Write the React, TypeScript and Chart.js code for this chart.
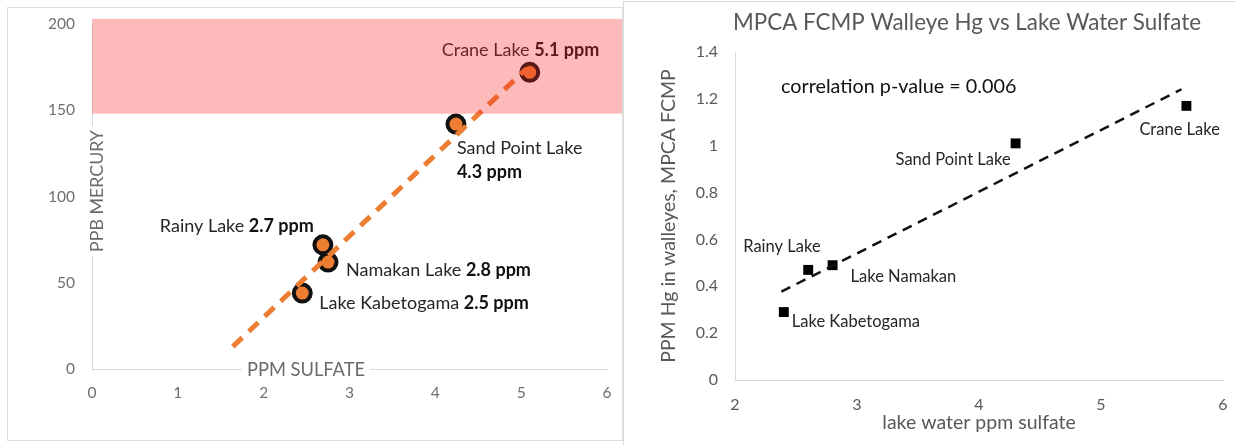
import React, { useEffect, useRef } from "react";
import { Chart, registerables } from "chart.js";

Chart.register(...registerables);

// ---------- DATA (left chart) ----------
const leftLakeNames = ["Lake Kabetogama", "Rainy Lake", "Namakan Lake", "Sand Point Lake", "Crane Lake"];
const leftSulfateLabels = ["2.5 ppm", "2.7 ppm", "2.8 ppm", "4.3 ppm", "5.1 ppm"];
const leftSulfatePpm = [2.45, 2.69, 2.75, 4.24, 5.1];
const leftMercuryPpb = [44, 72, 62, 142, 172];
const leftTrendX = [1.64, 5.06];
const leftTrendY = [13, 174];
const leftBandPpb = [148, 203];
const leftXTicks = [0, 1, 2, 3, 4, 5, 6];
const leftYTicks = [0, 50, 100, 150, 200];
const leftXTitle = "PPM SULFATE";
const leftYTitle = "PPB MERCURY";

// ---------- DATA (right chart) ----------
const rightTitle = "MPCA FCMP Walleye Hg vs Lake Water Sulfate";
const rightLakeNames = ["Lake Kabetogama", "Rainy Lake", "Lake Namakan", "Sand Point Lake", "Crane Lake"];
const rightSulfatePpm = [2.4, 2.6, 2.8, 4.3, 5.7];
const rightHgPpm = [0.29, 0.47, 0.49, 1.01, 1.17];
const rightTrendX = [2.38, 5.66];
const rightTrendY = [0.377, 1.241];
const rightXTicks = [2, 3, 4, 5, 6];
const rightYTicks = [0, 0.2, 0.4, 0.6, 0.8, 1, 1.2, 1.4];
const rightXTitle = "lake water ppm sulfate";
const rightYTitle = "PPM Hg in walleyes, MPCA FCMP";
const rightNote = "correlation p-value = 0.006";

// ---------- STYLE ----------
const FONT = "Lato, 'Open Sans', sans-serif";
const ORANGE = "#ed7d31";
const AXIS = "#d9d9d9";

type Part = { text: string; bold?: boolean };

function drawParts(ctx: CanvasRenderingContext2D, parts: Part[], x: number, y: number, align: string, size: number, color: string, boldColor: string) {
  const widths = parts.map((p) => {
    ctx.font = `${p.bold ? "bold " : ""}${size}px ${FONT}`;
    return ctx.measureText(p.text).width;
  });
  const total = widths.reduce((a, b) => a + b, 0);
  let cx = align === "right" ? x - total : align === "center" ? x - total / 2 : x;
  ctx.textBaseline = "middle";
  ctx.textAlign = "left";
  parts.forEach((p, i) => {
    ctx.font = `${p.bold ? "bold " : ""}${size}px ${FONT}`;
    ctx.fillStyle = p.bold ? boldColor : color;
    ctx.fillText(p.text, cx, y);
    cx += widths[i];
  });
}

// label placement (pixels relative to marker)
const leftLabelLayout = [
  { dx: 17, dy: 10, align: "left", split: false },
  { dx: -9, dy: -19, align: "right", split: false },
  { dx: 18, dy: 8, align: "left", split: false },
  { dx: 1, dy: 24, align: "left", split: true },
  { dx: -88, dy: -22, align: "left", split: false },
];

const rightLabelLayout = [
  { dx: 8, dy: 10, align: "left" },
  { dx: -65, dy: -23, align: "left" },
  { dx: 18, dy: 11, align: "left" },
  { dx: -5, dy: 16, align: "right" },
  { dx: -47, dy: 24, align: "left" },
];

const leftPlugin = {
  id: "leftDecor",
  afterDraw(chart: any) {
    const ctx = chart.ctx as CanvasRenderingContext2D;
    const { left, top, bottom } = chart.chartArea;
    const xs = chart.scales.x;
    const ys = chart.scales.y;
    ctx.save();
    const tSize = 17.8;
    // y title sitting on the axis line
    ctx.save();
    ctx.font = `${tSize}px ${FONT}`;
    ctx.translate(left + 4, top + 167);
    ctx.rotate(-Math.PI / 2);
    let w = ctx.measureText(leftYTitle).width;
    ctx.fillStyle = "#ffffff";
    ctx.fillRect(-w / 2 - 4, -tSize / 2 - 1, w + 8, tSize + 2);
    ctx.fillStyle = "#6b6b6b";
    ctx.textAlign = "center";
    ctx.textBaseline = "middle";
    ctx.fillText(leftYTitle, 0, 1);
    ctx.restore();
    // x title sitting on the axis line
    ctx.font = `18.3px ${FONT}`;
    w = ctx.measureText(leftXTitle).width;
    const cx = left + 214;
    ctx.fillStyle = "#ffffff";
    ctx.fillRect(cx - w / 2 - 5, bottom - tSize / 2 - 1, w + 10, tSize + 2);
    ctx.fillStyle = "#6b6b6b";
    ctx.textAlign = "center";
    ctx.textBaseline = "middle";
    ctx.fillText(leftXTitle, cx, bottom + 1);

    // data labels
    const size = 18;
    leftLakeNames.forEach((name, i) => {
      const px = xs.getPixelForValue(leftSulfatePpm[i]);
      const py = ys.getPixelForValue(leftMercuryPpb[i]);
      const L = leftLabelLayout[i];
      if (L.split) {
        drawParts(ctx, [{ text: name }], px + L.dx, py + L.dy, L.align, size, "#262626", "#111");
        drawParts(ctx, [{ text: leftSulfateLabels[i], bold: true }], px + L.dx, py + L.dy + 24, L.align, size, "#262626", "#111");
      } else {
        drawParts(ctx, [{ text: name + " " }, { text: leftSulfateLabels[i], bold: true }], px + L.dx, py + L.dy, L.align, size, "#262626", "#111");
      }
    });

    // threshold band (translucent, over the marks)
    const yTop = ys.getPixelForValue(leftBandPpb[1]);
    const yBot = ys.getPixelForValue(leftBandPpb[0]);
    ctx.fillStyle = "rgba(245, 40, 40, 0.32)";
    ctx.fillRect(left, yTop, chart.width - left, yBot - yTop);
    ctx.restore();
  },
};

const rightPlugin = {
  id: "rightDecor",
  afterDraw(chart: any) {
    const ctx = chart.ctx as CanvasRenderingContext2D;
    const { left, top } = chart.chartArea;
    const xs = chart.scales.x;
    const ys = chart.scales.y;
    ctx.save();
    ctx.textAlign = "left";
    ctx.textBaseline = "middle";
    ctx.font = `22.4px ${FONT}`;
    ctx.fillStyle = "#595959";
    ctx.fillText(rightTitle, left - 2, top - 29);

    ctx.font = `19.8px ${FONT}`;
    ctx.fillStyle = "#111";
    ctx.fillText(rightNote, left + 46, top + 35);

    rightLakeNames.forEach((name, i) => {
      const px = xs.getPixelForValue(rightSulfatePpm[i]);
      const py = ys.getPixelForValue(rightHgPpm[i]);
      const L = rightLabelLayout[i];
      drawParts(ctx, [{ text: name }], px + L.dx, py + L.dy, L.align, 16.5, "#262626", "#111");
    });
    ctx.restore();
  },
};

const fixX = (h: number) => (s: any) => {
  s.height = h;
  s.paddingLeft = 0;
  s.paddingRight = 0;
};
const fixY = (w: number) => (s: any) => {
  s.width = w;
  s.paddingTop = 0;
  s.paddingBottom = 0;
};

function LeftChart() {
  const ref = useRef<HTMLCanvasElement>(null);
  useEffect(() => {
    const chart = new Chart(ref.current as HTMLCanvasElement, {
      type: "scatter",
      data: {
        datasets: [
          {
            label: "trend",
            data: leftTrendX.map((x, i) => ({ x, y: leftTrendY[i] })),
            showLine: true,
            borderColor: ORANGE,
            borderWidth: 5,
            borderDash: [13, 9],
            pointRadius: 0,
            pointHoverRadius: 0,
            order: 0,
          } as any,
          {
            label: "lakes",
            data: leftSulfatePpm.map((x, i) => ({ x, y: leftMercuryPpb[i] })),
            pointRadius: 8.5,
            pointHoverRadius: 8.5,
            pointBorderWidth: 4,
            pointBackgroundColor: ORANGE,
            pointBorderColor: "#111",
            order: 1,
          } as any,
        ],
      },
      options: {
        animation: false,
        responsive: false,
        events: [],
        layout: { autoPadding: false, padding: { left: 0, top: 17, right: 15, bottom: 0 } },
        plugins: { legend: { display: false }, tooltip: { enabled: false } },
        scales: {
          x: {
            type: "linear",
            min: 0,
            max: 6,
            afterBuildTicks: (s: any) => {
              s.ticks = leftXTicks.map((v) => ({ value: v }));
            },
            afterFit: fixX(71),
            grid: { display: false, drawTicks: false },
            border: { display: true, color: AXIS, width: 1 },
            ticks: { color: "#6f6f6f", font: { family: FONT, size: 15.5 }, padding: 15 },
          },
          y: {
            type: "linear",
            min: 0,
            max: 200,
            afterBuildTicks: (s: any) => {
              s.ticks = leftYTicks.map((v) => ({ value: v }));
            },
            afterFit: fixY(85),
            grid: { display: false, drawTicks: false },
            border: { display: true, color: AXIS, width: 1 },
            ticks: { color: "#6f6f6f", font: { family: FONT, size: 15.5 }, padding: 17 },
          },
        },
      } as any,
      plugins: [leftPlugin],
    });
    return () => chart.destroy();
  }, []);
  return <canvas ref={ref} width={615} height={433} style={{ position: "absolute", left: 7, top: 7, width: 615, height: 433 }} />;
}

function RightChart() {
  const ref = useRef<HTMLCanvasElement>(null);
  useEffect(() => {
    const chart = new Chart(ref.current as HTMLCanvasElement, {
      type: "scatter",
      data: {
        datasets: [
          {
            label: "trend",
            data: rightTrendX.map((x, i) => ({ x, y: rightTrendY[i] })),
            showLine: true,
            borderColor: "#111",
            borderWidth: 2.5,
            borderDash: [10, 7],
            pointRadius: 0,
            pointHoverRadius: 0,
            order: 0,
          } as any,
          {
            label: "lakes",
            data: rightSulfatePpm.map((x, i) => ({ x, y: rightHgPpm[i] })),
            pointStyle: "rect",
            pointRadius: 7,
            pointHoverRadius: 7,
            pointBorderWidth: 0,
            pointBackgroundColor: "#000",
            order: 1,
          } as any,
        ],
      },
      options: {
        animation: false,
        responsive: false,
        events: [],
        layout: { autoPadding: false, padding: { left: 0, top: 51, right: 13, bottom: 0 } },
        plugins: { legend: { display: false }, tooltip: { enabled: false } },
        scales: {
          x: {
            type: "linear",
            min: 2,
            max: 6,
            afterBuildTicks: (s: any) => {
              s.ticks = rightXTicks.map((v) => ({ value: v }));
            },
            afterFit: fixX(65),
            grid: { display: false, drawTicks: false },
            border: { display: true, color: AXIS, width: 1 },
            ticks: { color: "#595959", font: { family: FONT, size: 16 }, padding: 15 },
            title: {
              display: true,
              text: rightXTitle,
              color: "#595959",
              font: { family: FONT, size: 19.5 },
              padding: { top: 0, bottom: 11 },
            },
          },
          y: {
            type: "linear",
            min: 0,
            max: 1.4,
            afterBuildTicks: (s: any) => {
              s.ticks = rightYTicks.map((v) => ({ value: v }));
            },
            afterFit: fixY(112),
            grid: { display: false, drawTicks: false },
            border: { display: true, color: AXIS, width: 1 },
            ticks: {
              color: "#595959",
              font: { family: FONT, size: 16 },
              padding: 17,
              callback: (v: any) => String(Number(Number(v).toFixed(1))),
            },
            title: {
              display: true,
              text: rightYTitle,
              color: "#595959",
              font: { family: FONT, size: 19.5 },
              padding: { top: 34, bottom: 0 },
            },
          },
        },
      } as any,
      plugins: [rightPlugin],
    });
    return () => chart.destroy();
  }, []);
  return <canvas ref={ref} width={613} height={444} style={{ position: "absolute", left: 623, top: 1, width: 613, height: 444 }} />;
}

export default function App() {
  return (
    <div
      style={{
        position: "fixed",
        left: 0,
        top: 0,
        width: 1236,
        height: 445,
        background: "#ffffff",
        overflow: "hidden",
      }}
    >
      <LeftChart />
      <RightChart />
      <div
        style={{
          position: "absolute",
          left: 7,
          top: 7,
          width: 616,
          height: 434,
          boxSizing: "border-box",
          border: "1px solid #dcdcdc",
          pointerEvents: "none",
        }}
      />
      <div
        style={{
          position: "absolute",
          left: 623,
          top: 1,
          width: 700,
          height: 500,
          boxSizing: "border-box",
          border: "1px solid #dcdcdc",
          pointerEvents: "none",
        }}
      />
    </div>
  );
}
